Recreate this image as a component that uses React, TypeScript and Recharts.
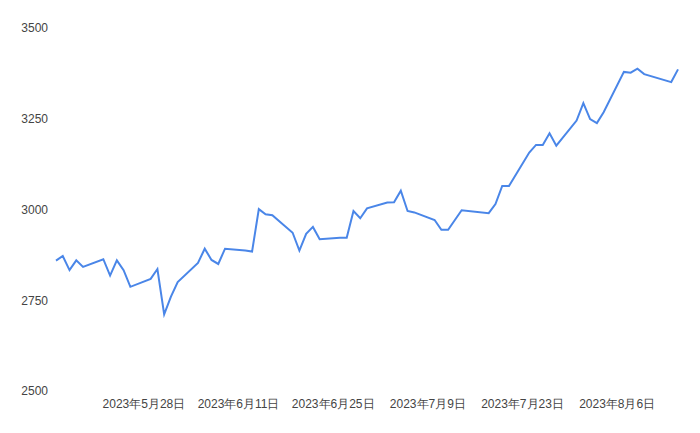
import React from "react";
import { LineChart, Line, XAxis, YAxis } from "recharts";

const dates: string[] = [
  "2023-05-15", "2023-05-16", "2023-05-17", "2023-05-18", "2023-05-19",
  "2023-05-22", "2023-05-23", "2023-05-24", "2023-05-25", "2023-05-26",
  "2023-05-29", "2023-05-30", "2023-05-31", "2023-06-01", "2023-06-02",
  "2023-06-05", "2023-06-06", "2023-06-07", "2023-06-08", "2023-06-09",
  "2023-06-12", "2023-06-13", "2023-06-14", "2023-06-15", "2023-06-16",
  "2023-06-19", "2023-06-20", "2023-06-21", "2023-06-22", "2023-06-23",
  "2023-06-26", "2023-06-27", "2023-06-28", "2023-06-29", "2023-06-30",
  "2023-07-03", "2023-07-04", "2023-07-05", "2023-07-06", "2023-07-07",
  "2023-07-10", "2023-07-11", "2023-07-12", "2023-07-13", "2023-07-14",
  "2023-07-18", "2023-07-19", "2023-07-20", "2023-07-21",
  "2023-07-24", "2023-07-25", "2023-07-26", "2023-07-27", "2023-07-28",
  "2023-07-31", "2023-08-01", "2023-08-02", "2023-08-03", "2023-08-04",
  "2023-08-07", "2023-08-08", "2023-08-09", "2023-08-10",
  "2023-08-14", "2023-08-15",
];

const values: number[] = [
  2859, 2872, 2833, 2860, 2842,
  2863, 2818, 2860, 2833, 2787,
  2809, 2836, 2711, 2760, 2800,
  2853, 2892, 2861, 2850, 2892,
  2887, 2884, 3001, 2987, 2984,
  2936, 2887, 2933, 2952, 2918,
  2922, 2922, 2996, 2976, 3003,
  3019, 3020, 3052, 2996, 2992,
  2971, 2944, 2944, 2971, 2998,
  2990, 3015, 3065, 3065,
  3157, 3178, 3178, 3210, 3176,
  3245, 3293, 3249, 3238, 3268,
  3379, 3377, 3388, 3373,
  3351, 3386,
];

const xTickDates: string[] = [
  "2023-05-28", "2023-06-11", "2023-06-25", "2023-07-09", "2023-07-23", "2023-08-06",
];

const yTicks: number[] = [2500, 2750, 3000, 3250, 3500];

const toTs = (s: string) => {
  const [y, m, d] = s.split("-").map(Number);
  return Date.UTC(y, m - 1, d);
};

const data = dates.map((d, i) => ({ t: toTs(d), v: values[i] }));
const xTicks = xTickDates.map(toTs);

const fmt = (t: number) => {
  const d = new Date(t);
  return `${d.getUTCFullYear()}年${d.getUTCMonth() + 1}月${d.getUTCDate()}日`;
};

const tickStyle = { fontSize: 12, fill: "#444", fontFamily: "'Liberation Sans', Arial, sans-serif" };

export default function App() {
  return (
    <div style={{ position: "absolute", left: 0, top: 0, background: "#fff" }}>
      <LineChart
        width={700}
        height={433}
        data={data}
        margin={{ top: 28, right: 22, bottom: 12, left: 0 }}
      >
        <XAxis
          dataKey="t"
          type="number"
          scale="time"
          domain={[toTs(dates[0]), toTs(dates[dates.length - 1])]}
          ticks={xTicks}
          tickFormatter={fmt}
          axisLine={false}
          tickLine={false}
          interval={0}
          height={30}
          tick={tickStyle}
        />
        <YAxis
          type="number"
          domain={[2500, 3500]}
          ticks={yTicks}
          axisLine={false}
          tickLine={false}
          width={56}
          tick={tickStyle}
          interval={0}
        />
        <Line
          type="linear"
          dataKey="v"
          stroke="#4a86e8"
          strokeWidth={2}
          dot={false}
          isAnimationActive={false}
        />
      </LineChart>
    </div>
  );
}
